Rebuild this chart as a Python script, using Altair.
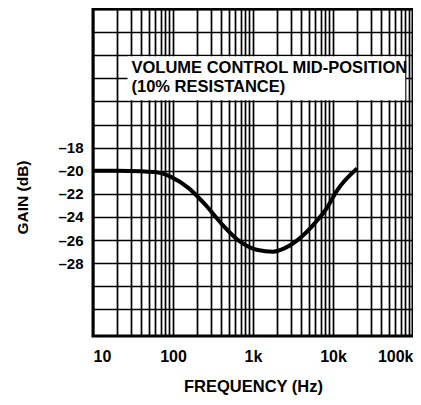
import altair as alt
import pandas as pd

# curve
freq = [10, 20, 40, 62, 97, 157, 255, 400, 650, 1150, 1780, 2500, 3600, 5900, 8600, 11000, 20000]
gain = [-20.0, -20.0, -20.05, -20.13, -20.57, -21.5, -22.96, -24.55, -26.0, -26.86, -27.0, -26.7,
        -26.0, -24.55, -23.1, -21.8, -19.8]

decades = [10, 100, 1000, 10000, 100000]
x_labels = ["10", "100", "1k", "10k", "100k"]
y_grid = list(range(-32, -5, 2))
y_labelled = [-18, -20, -22, -24, -26, -28]
note_lines = ["VOLUME CONTROL MID-POSITION", "(10% RESISTANCE)"]

x_grid = [d * m for d in decades[:-1] for m in range(1, 10)] + [decades[-1]]

FONT = "Liberation Sans, Arial, Helvetica, sans-serif"

x_map = "{" + ",".join(f"'{d}':'{l}'" for d, l in zip(decades, x_labels)) + "}"
x_label_expr = f"({x_map})[''+datum.value] || ''"
y_label_expr = ("indexof(" + str(y_labelled) + ", datum.value) >= 0 ? '\u2013' + abs(datum.value) : ''")

xs = alt.Scale(type="log", domain=[10, 100000], nice=False)
ys = alt.Scale(domain=[-34.3, -6], nice=False, zero=False)

x_axis = alt.Axis(values=x_grid, labelExpr=x_label_expr, title="FREQUENCY (Hz)", grid=True,
                  labelOverlap=False, labelFlush=True, labelPadding=12, labelFontSize=16,
                  titleFontSize=16.5, titleY=55, titleBaseline="alphabetic", ticks=False)
y_axis = alt.Axis(values=y_grid, labelExpr=y_label_expr, title="GAIN (dB)", grid=True,
                  labelOverlap=False, labelPadding=10, labelFontSize=15, ticks=False,
                  titleFontSize=15.5, titleX=-71, titleY=188, titleAngle=-90,
                  titleBaseline="middle", titleAlign="center")

curve_df = pd.DataFrame({"f": freq, "g": gain})

box_df = pd.DataFrame({"x": [27], "x2": [80000], "y": [-10.1], "y2": [-13.9]})
box = alt.Chart(box_df).mark_rect(fill="white").encode(
    x=alt.X("x:Q", scale=xs, axis=x_axis), x2="x2:Q",
    y=alt.Y("y:Q", scale=ys, axis=y_axis), y2="y2:Q")

line = alt.Chart(curve_df).mark_line(color="black", strokeWidth=4, interpolate="monotone").encode(
    x=alt.X("f:Q", scale=xs, axis=x_axis), y=alt.Y("g:Q", scale=ys, axis=y_axis))

text_df = pd.DataFrame({"t": note_lines, "x": [30.3, 30.3], "y": [-11.55, -13.15]})
text = alt.Chart(text_df).mark_text(align="left", baseline="alphabetic", font=FONT,
                                    fontWeight="bold", fontSize=16.5, color="black").encode(
    x=alt.X("x:Q", scale=xs, axis=x_axis), y=alt.Y("y:Q", scale=ys, axis=y_axis), text="t:N")

chart = alt.layer(box, line, text).properties(
    width=320, height=327,
    autosize=alt.AutoSizeParams(type="none"),
    padding={"left": 85, "top": 1, "right": 0, "bottom": 59},
).configure_view(stroke="black", strokeWidth=3).configure_axis(
    gridColor="black", gridOpacity=1, gridWidth=1.7, domain=False, ticks=False,
    labelOverlap=False,
    labelFont=FONT, titleFont=FONT, labelFontWeight="bold", titleFontWeight="bold",
    labelColor="black", titleColor="black",
)

chart.save("out.html", embed_options={"renderer": "svg", "actions": False})
